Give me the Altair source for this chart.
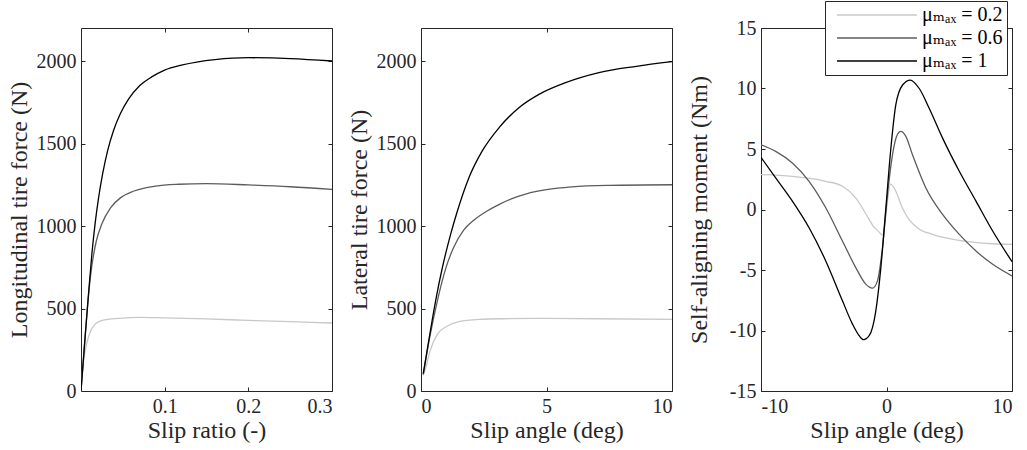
import altair as alt
import pandas as pd

# ---------------- data ----------------
labels = ["μₘₐₓ = 0.2\u00a0\u00a0", "μₘₐₓ = 0.6\u00a0\u00a0", "μₘₐₓ = 1\u00a0\u00a0"]
colors = ["#c8c8c8", "#5c5c5c", "#000000"]

# Panel 1: longitudinal force vs slip ratio
p1_s_02 = [0, 0.0036, 0.0076, 0.0116, 0.0167, 0.0255, 0.0454, 0.07, 0.1, 0.15, 0.2, 0.25, 0.3]
p1_f_02 = [0, 202, 303, 364, 404, 428, 440, 446, 443, 437, 428, 420, 412]
p1_s_06 = [0, 0.0044, 0.0076, 0.0112, 0.0183, 0.0247, 0.0355, 0.0474, 0.0633, 0.0892, 0.117, 0.15, 0.2, 0.25, 0.3]
p1_f_06 = [0, 300, 500, 690, 909, 1010, 1111, 1172, 1212, 1242, 1253, 1257, 1249, 1238, 1222]
p1_s_10 = [0, 0.005, 0.009, 0.013, 0.017, 0.021, 0.026, 0.032, 0.039, 0.047, 0.057, 0.07, 0.085,
           0.1, 0.12, 0.14, 0.16, 0.2, 0.25, 0.3]
p1_f_10 = [0, 330, 590, 830, 1020, 1170, 1320, 1460, 1580, 1680, 1770, 1850, 1905, 1945, 1975,
           1995, 2008, 2020, 2015, 2000]

# Panel 2: lateral force vs slip angle
p2_a_02 = [0.09, 0.19, 0.36, 0.65, 1.05, 1.51, 2.31, 3.25, 5, 7, 10]
p2_f_02 = [95, 141, 242, 343, 394, 420, 434, 438, 440, 438, 434]
p2_a_06 = [0.09, 0.37, 0.65, 0.98, 1.3, 1.7, 2.1, 2.6, 3.1, 3.6, 4.2, 5.0, 6.0, 7.5, 10]
p2_f_06 = [101, 343, 545, 740, 870, 975, 1035, 1088, 1130, 1165, 1195, 1220, 1237, 1246, 1250]
p2_a_10 = [0.09, 0.35, 0.58, 0.85, 1.18, 1.45, 1.91, 2.44, 3.11, 3.9, 4.7, 5.76, 7.09, 8.58, 10]
p2_f_10 = [105, 343, 545, 747, 949, 1091, 1293, 1455, 1596, 1717, 1798, 1869, 1930, 1968, 1996]

# Panel 3: self-aligning moment vs slip angle
p3_a_02 = [-10, -7.5, -4.84, -3.51, -2.45, -1.65, -1.0, -0.6, -0.33, 0.33, 0.73, 1.26, 1.79, 2.45,
           3.67, 5.8, 8.46, 10]
p3_m_02 = [2.88, 2.74, 2.33, 1.92, 0.96, -0.35, -1.45, -1.85, -2.12, 2.1, 1.53, 0.15, -0.81, -1.5,
           -2.06, -2.55, -2.83, -2.88]
p3_a_06 = [-10, -8.83, -7.5, -6.17, -4.84, -3.51, -2.45, -1.65, -1.12, -0.72, -0.32, 0.08, 0.48, 0.8,
           1.14, 1.54, 2.07, 3.14, 4.47, 5.8, 7.13, 8.46, 10]
p3_m_06 = [5.35, 4.8, 3.84, 2.33, 0.14, -2.61, -4.8, -6.17, -6.5, -5.9, -3.16, 1.23, 4.53, 6.04,
           6.45, 6.04, 4.53, 1.78, -0.41, -2.06, -3.43, -4.53, -5.49]
p3_a_10 = [-10, -8.83, -7.5, -6.17, -4.84, -3.51, -2.71, -2.18, -1.84, -1.38, -0.85, -0.45, -0.05,
           0.35, 0.74, 1.28, 1.89, 2.61, 3.4, 4.47, 5.8, 7.13, 8.46, 10]
p3_m_10 = [4.31, 2.61, 0.69, -1.51, -4.25, -7.55, -9.47, -10.43, -10.76, -10.43, -8.37, -4.8, 0.14,
           5.08, 8.64, 10.29, 10.7, 10.0, 8.37, 5.9, 3.16, 0.69, -1.78, -4.31]

FONT = "'Liberation Serif', 'DejaVu Serif', serif"
AX = "#262626"


def frame_df(pairs):
    rows = []
    for k, (xs, ys) in enumerate(pairs):
        for i, (a, b) in enumerate(zip(xs, ys)):
            rows.append({"x": a, "y": b, "series": labels[k], "k": k, "i": i})
    return pd.DataFrame(rows)


def panel(df, xdom, xticks, xfmt, xtitle, ydom, yticks, ytitle, legend=None):
    xs = alt.Scale(domain=xdom, nice=False, zero=False)
    ys = alt.Scale(domain=ydom, nice=False, zero=False)
    common = dict(offset=-4, tickSize=4, domain=False, grid=False, tickColor=AX, tickWidth=1)
    color = alt.Color("series:N", scale=alt.Scale(domain=labels, range=colors),
                      legend=legend)
    lines = alt.Chart(df).mark_line(strokeWidth=1.3, interpolate="monotone", clip=True).encode(
        x=alt.X("x:Q", scale=xs, axis=alt.Axis(
            orient="bottom", values=xticks, format=xfmt,
            labelExpr="replace(datum.label, '\u2212', '-')",
            title=xtitle, labelPadding=5, titleX=125.5, titleY=43,
            titleBaseline="middle", titleAlign="center", **common)),
        y=alt.Y("y:Q", scale=ys, axis=alt.Axis(
            orient="left", values=yticks, format="d",
            labelExpr="replace(datum.label, '\u2212', '-')",
            title=ytitle, labelPadding=5, titleX=-66, titleY=181.5, titleAngle=270,
            titleBaseline="middle", titleAlign="center", **common)),
        color=color,
        order="i:Q",
    )
    ghost = alt.Chart(df).mark_point(opacity=0).encode(
        x=alt.X("x:Q", scale=xs, axis=alt.Axis(orient="top", values=xticks, labels=False,
                                              title=None, **common)),
        y=alt.Y("y:Q", scale=ys, axis=alt.Axis(orient="right", values=yticks, labels=False,
                                              title=None, **common)),
    )
    return alt.layer(lines, ghost).resolve_axis(x="independent", y="independent").properties(
        width=251, height=363)


d1 = frame_df([(p1_s_02, p1_f_02), (p1_s_06, p1_f_06), (p1_s_10, p1_f_10)])
d2 = frame_df([(p2_a_02, p2_f_02), (p2_a_06, p2_f_06), (p2_a_10, p2_f_10)])
d3 = frame_df([(p3_a_02, p3_m_02), (p3_a_06, p3_m_06), (p3_a_10, p3_m_10)])

leg = alt.Legend(orient="none", legendX=64, legendY=-27, title=None,
                 symbolType="M-8,0H8", symbolSize=100, symbolStrokeWidth=1.3,
                 symbolOffset=38, labelOffset=35, labelFont=FONT, labelFontSize=20,
                 labelColor="#000000", strokeColor=AX, fillColor="white", padding=4,
                 rowPadding=3, labelLimit=220)

c1 = panel(d1, [0, 0.3], [0.1, 0.2, 0.3], ".1f", "Slip ratio (-)",
           [0, 2200], [0, 500, 1000, 1500, 2000], "Longitudinal tire force (N)")
c2 = panel(d2, [0, 10], [0, 5, 10], "d", "Slip angle (deg)",
           [0, 2200], [0, 500, 1000, 1500, 2000], "Lateral tire force (N)")
c3 = panel(d3, [-10, 10], [-10, 0, 10], "d", "Slip angle (deg)",
           [-15, 15], [-15, -10, -5, 0, 5, 10, 15], "Self-aligning moment (Nm)", legend=leg)

chart = alt.hconcat(c1, c2, c3, spacing=89, bounds="flush").resolve_scale(
    color="independent"
).properties(
    padding={"left": 6, "top": 0, "right": 0, "bottom": 0},
    background="white",
).configure_view(stroke=AX, strokeWidth=1).configure_axis(
    labelFont=FONT, labelFontSize=20, labelColor=AX,
    titleFont=FONT, titleFontSize=24, titleColor=AX, titleFontWeight="normal",
)

chart.save("out.html", embed_options={"renderer": "svg", "actions": False})
